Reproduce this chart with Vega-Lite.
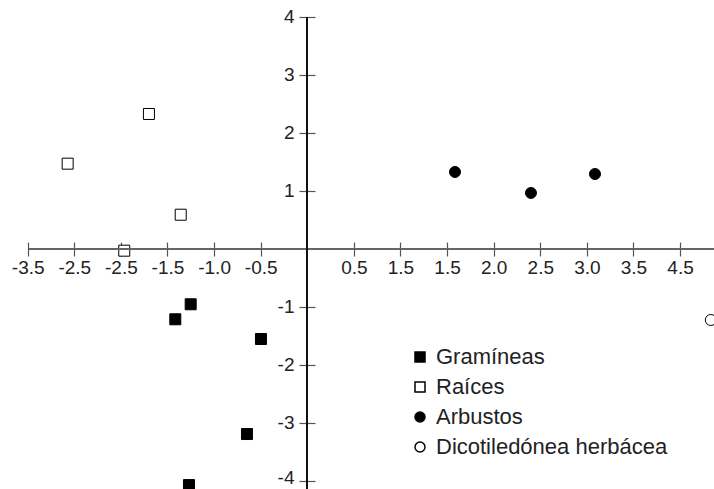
{
  "$schema": "https://vega.github.io/schema/vega-lite/v6.json",
  "width": 714,
  "height": 489,
  "autosize": "none",
  "padding": 0,
  "background": "white",
  "config": {
    "view": {"stroke": null},
    "font": "Liberation Sans"
  },
  "data": {
    "values": [
      {"grupo": "Gramíneas", "x": -1.251, "y": -0.953},
      {"grupo": "Gramíneas", "x": -1.416, "y": -1.212},
      {"grupo": "Gramíneas", "x": -0.497, "y": -1.552},
      {"grupo": "Gramíneas", "x": -0.647, "y": -3.19},
      {"grupo": "Gramíneas", "x": -1.269, "y": -4.07},
      {"grupo": "Raíces", "x": -2.571, "y": 1.471},
      {"grupo": "Raíces", "x": -1.699, "y": 2.328},
      {"grupo": "Raíces", "x": -1.358, "y": 0.591},
      {"grupo": "Raíces", "x": -1.964, "y": -0.029},
      {"grupo": "Arbustos", "x": 1.585, "y": 1.328},
      {"grupo": "Arbustos", "x": 2.4, "y": 0.966},
      {"grupo": "Arbustos", "x": 3.087, "y": 1.293},
      {"grupo": "Dicotiledónea herbácea", "x": 4.33, "y": -1.224}
    ]
  },
  "layer": [
    {
      "mark": {"type": "point", "filled": true, "stroke": "black", "strokeWidth": 1, "size": 121, "opacity": 1},
      "encoding": {
        "x": {
          "field": "x", "type": "quantitative",
          "scale": {"domain": [-3.297, 4.364], "nice": false, "zero": false},
          "axis": {
            "title": null, "orient": "bottom", "offset": -247, "domain": false,
            "values": [-3, -2.5, -2, -1.5, -1, -0.5, 0.5, 1, 1.5, 2, 2.5, 3, 3.5, 4],
            "labelExpr": "['-3.5','-2.5','-2.5','-1.5','-1.0','-0.5','0','0.5','1.5','1.5','2.0','2.5','3.0','3.5','4.5'][round(datum.value*2)+6]",
            "tickSize": 14, "tickColor": "#555555", "tickWidth": 1.2,
            "labelFontSize": 19, "labelColor": "#222222", "labelPadding": 2,
            "grid": false, "labelOverlap": false, "labelFlush": false
          }
        },
        "y": {
          "field": "y", "type": "quantitative",
          "scale": {"domain": [-4.138, 4.293], "nice": false, "zero": false},
          "axis": {
            "title": null, "orient": "left", "offset": -315, "domain": false,
            "values": [-4, -3, -2, -1, 1, 2, 3, 4],
            "labelExpr": "'' + datum.value",
            "labelOffset": {"condition": {"test": "datum.value == -4", "value": -3}, "value": 0},
            "tickSize": 16, "tickColor": "#555555", "tickWidth": 1.2,
            "labelFontSize": 19, "labelColor": "#222222", "labelPadding": 5,
            "grid": false, "labelOverlap": false, "labelFlush": false
          }
        },
        "shape": {
          "field": "grupo", "type": "nominal",
          "scale": {"domain": ["Gramíneas", "Raíces", "Arbustos", "Dicotiledónea herbácea"], "range": ["square", "square", "circle", "circle"]},
          "legend": {
            "title": null, "orient": "none", "legendX": 409, "legendY": 346,
            "padding": 0, "symbolSize": 100, "labelLimit": 400,
            "labelFontSize": 22, "labelColor": "#222222", "labelOffset": 5, "rowPadding": 8,
            "encode": {"symbols": {"update": {"stroke": {"value": "black"}, "strokeWidth": {"value": 1}}}}
          }
        },
        "fill": {
          "field": "grupo", "type": "nominal",
          "scale": {"domain": ["Gramíneas", "Raíces", "Arbustos", "Dicotiledónea herbácea"], "range": ["black", "white", "black", "white"]},
          "legend": {
            "title": null, "orient": "none", "legendX": 409, "legendY": 346,
            "padding": 0, "symbolSize": 100, "labelLimit": 400,
            "labelFontSize": 22, "labelColor": "#222222", "labelOffset": 5, "rowPadding": 8,
            "encode": {"symbols": {"update": {"stroke": {"value": "black"}, "strokeWidth": {"value": 1}}}}
          }
        }
      }
    },
    {
      "mark": {"type": "rule", "color": "#666666", "strokeWidth": 1.5},
      "encoding": {
        "x": {"datum": -2.986, "type": "quantitative", "scale": {"domain": [-3.297, 4.364], "nice": false, "zero": false}},
        "x2": {"datum": 4.5},
        "y": {"datum": 0, "type": "quantitative", "scale": {"domain": [-4.138, 4.293], "nice": false, "zero": false}}
      }
    },
    {
      "mark": {"type": "rule", "color": "#111111", "strokeWidth": 1.3},
      "encoding": {
        "x": {"datum": 0, "type": "quantitative", "scale": {"domain": [-3.297, 4.364], "nice": false, "zero": false}},
        "y": {"datum": 4, "type": "quantitative", "scale": {"domain": [-4.138, 4.293], "nice": false, "zero": false}},
        "y2": {"datum": -4.3}
      }
    }
  ]
}
